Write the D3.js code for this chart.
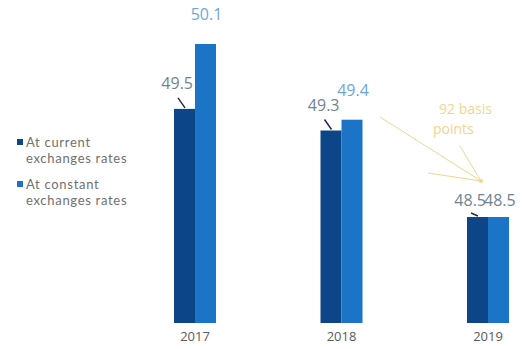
<!DOCTYPE html>
<html><head><meta charset="utf-8">
<script src="https://cdn.jsdelivr.net/npm/d3@7"></script>
<style>
html,body{margin:0;padding:0;background:#fff;}
svg{display:block;font-family:"Open Sans","Noto Sans",sans-serif;}
</style></head>
<body>
<svg id="chart" width="523" height="349"></svg>
<script>
const years = ["2017", "2018", "2019"];
const currentRates = [49.5, 49.3, 48.5];
const constantRates = [50.1, 49.4, 48.5];
const seriesNames = ["At current", "At constant"];
const legendSub = "exchanges rates";
const annotationLines = ["92 basis", "points"];

const darkColor = "#0c4688";
const lightColor = "#1c74c6";
const svg = d3.select("#chart");

const x = d3.scalePoint().domain(years).range([195, 488]);
const y = d3.scaleLinear().domain([47.52, 50.1]).range([323, 44]);
const bw = 21;

const g = svg.append("g");
g.selectAll("rect.cur").data(years).join("rect")
  .attr("x", d => x(d) - bw).attr("width", bw)
  .attr("y", (d,i) => y(currentRates[i])).attr("height", (d,i) => y.range()[0] - y(currentRates[i]))
  .attr("fill", darkColor);
g.selectAll("rect.con").data(years).join("rect")
  .attr("x", d => x(d)).attr("width", bw)
  .attr("y", (d,i) => y(constantRates[i])).attr("height", (d,i) => y.range()[0] - y(constantRates[i]))
  .attr("fill", lightColor);

const last = years.length - 1;
g.selectAll("line.lead").data(years).join("line")
  .attr("x1", d => x(d) - bw + 4).attr("x2", d => x(d) - bw + 11)
  .attr("y1", (d,i) => y(currentRates[i]) - (i === last ? 4 : 11))
  .attr("y2", (d,i) => y(currentRates[i]) - 1)
  .attr("stroke", "#1d2f4a").attr("stroke-width", 1.5);

g.selectAll("text.cl").data(years).join("text")
  .attr("x", d => x(d) - 2).attr("text-anchor", "end")
  .attr("y", (d,i) => y(currentRates[i]) - (i === last ? 11 : 20))
  .attr("font-size", 16).attr("fill", "#6f8396")
  .text((d,i) => currentRates[i].toFixed(1));
g.selectAll("text.kl").data(years).join("text")
  .attr("x", (d,i) => i === last ? x(d) - 4 : x(d) + bw/2 + 1)
  .attr("text-anchor", (d,i) => i === last ? "start" : "middle")
  .attr("y", (d,i) => y(constantRates[i]) - (i === last ? 11 : 24))
  .attr("font-size", 16).attr("fill", (d,i) => i === last ? "#6f8396" : "#6fa6d8")
  .text((d,i) => constantRates[i].toFixed(1));

g.selectAll("text.yr").data(years).join("text")
  .attr("x", d => x(d)).attr("y", 341).attr("text-anchor", "middle")
  .attr("font-size", 13).attr("fill", "#5a5a5a").text(d => d);

const leg = svg.append("g").attr("font-family", "Lato, 'Open Sans', sans-serif");
[darkColor, lightColor].forEach((c, i) => {
  const base = 147 + i * 42;
  leg.append("rect").attr("x", 17).attr("y", base - 8).attr("width", 6).attr("height", 6).attr("fill", c);
  leg.append("text").attr("x", 26).attr("y", base).attr("font-size", 13)
    .attr("letter-spacing", 0.7).attr("fill", "#707070").text(seriesNames[i]);
  leg.append("text").attr("x", 26).attr("y", base + 16).attr("font-size", 13)
    .attr("letter-spacing", 0.7).attr("fill", "#707070").text(legendSub);
});

const ann = svg.append("g");
const annColor = "#f2d48e";
const tip = [481, 181];
[[380, 117], [428, 173], [460, 146]].forEach(p => {
  ann.append("line").attr("x1", p[0]).attr("y1", p[1]).attr("x2", tip[0]).attr("y2", tip[1])
    .attr("stroke", annColor).attr("stroke-width", 1);
});
ann.append("circle").attr("cx", tip[0]).attr("cy", tip[1]).attr("r", 2).attr("fill", annColor);
annotationLines.forEach((t, i) => {
  ann.append("text").attr("x", i === 0 ? 439 : 433).attr("y", 114 + i * 20)
    .attr("font-size", 14).attr("fill", annColor).text(t);
});
</script>
</body></html>
